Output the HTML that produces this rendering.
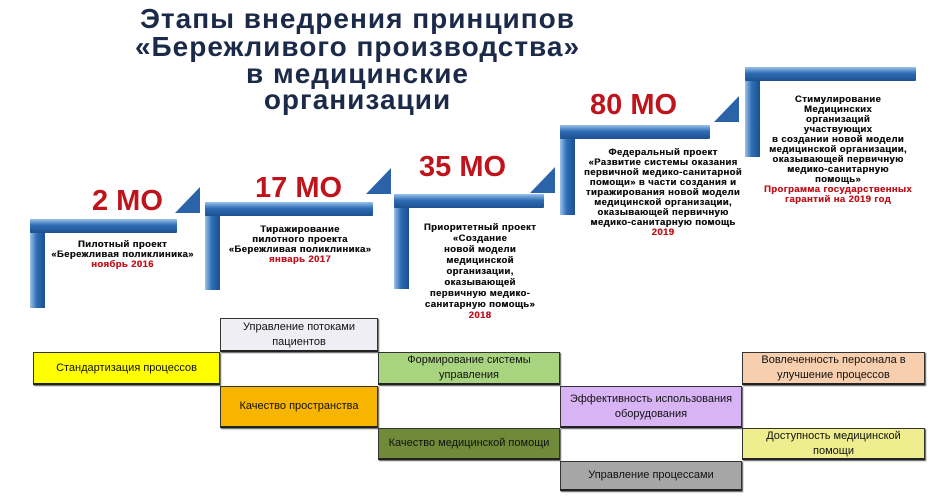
<!DOCTYPE html>
<html><head><meta charset="utf-8"><style>
body{margin:0;width:950px;height:500px;background:#fff;position:relative;overflow:hidden;font-family:"Liberation Sans",sans-serif}
.t{position:absolute;left:115px;width:485px;text-align:center;color:#1c2a4a;font-weight:bold;font-size:28px;letter-spacing:1px;line-height:28px}
.h{position:absolute;height:14px;background:linear-gradient(#9cc3ea,#2e6db5 45%,#1d4f8f);border-radius:1px}
.v{position:absolute;width:15px;background:linear-gradient(90deg,#9cc3ea,#2e6db5 45%,#1d4f8f)}
.tri{position:absolute;width:0;height:0;border-left:25px solid transparent;border-bottom:26px solid #2a63a8}
.mo{position:absolute;color:#c0141c;font-weight:bold;font-size:29px;line-height:30px}
.tx{position:absolute;text-align:center;font-weight:bold;font-size:9.5px;line-height:10px;letter-spacing:.4px;color:#111;text-shadow:0.3px 0 0 #111}
.r{color:#c0141c;text-shadow:0.3px 0 0 #c0141c}
.b{position:absolute;border:1px solid #333;border-bottom:2px solid #222;box-shadow:1px 1px 1px #555;display:flex;align-items:center;justify-content:center;text-align:center;font-family:"Liberation Sans Narrow","Liberation Sans",sans-serif;font-size:11px;line-height:15px;color:#111;box-sizing:border-box;padding:0 6px}
</style></head><body>
<div class="t" style="top:5px">Этапы внедрения принципов</div>
<div class="t" style="top:33px">«Бережливого производства»</div>
<div class="t" style="top:60px">в медицинские</div>
<div class="t" style="top:86px">организации</div>

<div class="v" style="left:30px;top:219px;height:89px"></div><div class="h" style="left:30px;top:219px;width:147px"></div>
<div class="tri" style="left:175px;top:187px"></div>
<div class="mo" style="left:92px;top:186px">2 МО</div>
<div class="tx" style="left:40px;top:240px;width:165px">Пилотный проект<br>«Бережливая поликлиника»<br><span class="r">ноябрь 2016</span></div>

<div class="v" style="left:205px;top:202px;height:88px"></div><div class="h" style="left:205px;top:202px;width:168px"></div>
<div class="tri" style="left:366px;top:168px"></div>
<div class="mo" style="left:255px;top:173px">17 МО</div>
<div class="tx" style="left:215px;top:225px;width:170px">Тиражирование<br>пилотного проекта<br>«Бережливая поликлиника»<br><span class="r">январь 2017</span></div>

<div class="v" style="left:394px;top:194px;height:95px"></div><div class="h" style="left:394px;top:194px;width:150px"></div>
<div class="tri" style="left:530px;top:167px"></div>
<div class="mo" style="left:419px;top:152px">35 МО</div>
<div class="tx" style="left:406px;top:222px;width:148px;line-height:11px">Приоритетный проект<br>«Создание<br>новой модели<br>медицинской<br>организации,<br>оказывающей<br>первичную медико-<br>санитарную помощь»<br><span class="r">2018</span></div>

<div class="v" style="left:560px;top:125px;height:90px"></div><div class="h" style="left:560px;top:125px;width:150px"></div>
<div class="tri" style="left:714px;top:96px"></div>
<div class="mo" style="left:590px;top:90px">80 МО</div>
<div class="tx" style="left:574px;top:148px;width:178px">Федеральный проект<br>«Развитие системы оказания<br>первичной медико-санитарной<br>помощи» в части создания и<br>тиражирования новой модели<br>медицинской организации,<br>оказывающей первичную<br>медико-санитарную помощь<br><span class="r">2019</span></div>

<div class="v" style="left:745px;top:67px;height:90px"></div><div class="h" style="left:745px;top:67px;width:171px"></div>
<div class="tx" style="left:752px;top:95px;width:172px">Стимулирование<br>Медицинских<br>организаций<br>участвующих<br>в создании новой модели<br>медицинской организации,<br>оказывающей первичную<br>медико-санитарную<br>помощь»<br><span class="r">Программа государственных<br>гарантий на 2019 год</span></div>

<div class="b" style="left:220px;top:318px;width:158px;height:34px;background:#efeef4">Управление потоками пациентов</div>
<div class="b" style="left:33px;top:352px;width:187px;height:33px;background:#ffff00">Стандартизация процессов</div>
<div class="b" style="left:378px;top:352px;width:182px;height:33px;background:#a9d47f">Формирование системы управления</div>
<div class="b" style="left:742px;top:352px;width:183px;height:33px;background:#f8cfae">Вовлеченность персонала в улучшение процессов</div>
<div class="b" style="left:220px;top:386px;width:158px;height:42px;background:#f7b500">Качество пространства</div>
<div class="b" style="left:560px;top:386px;width:182px;height:42px;background:#d8b4f4">Эффективность использования оборудования</div>
<div class="b" style="left:378px;top:428px;width:182px;height:32px;background:#6f8a38">Качество медицинской помощи</div>
<div class="b" style="left:742px;top:428px;width:183px;height:32px;background:#eeee8e">Доступность медицинской помощи</div>
<div class="b" style="left:560px;top:461px;width:182px;height:30px;background:#a6a6a6">Управление процессами</div>
</body></html>
